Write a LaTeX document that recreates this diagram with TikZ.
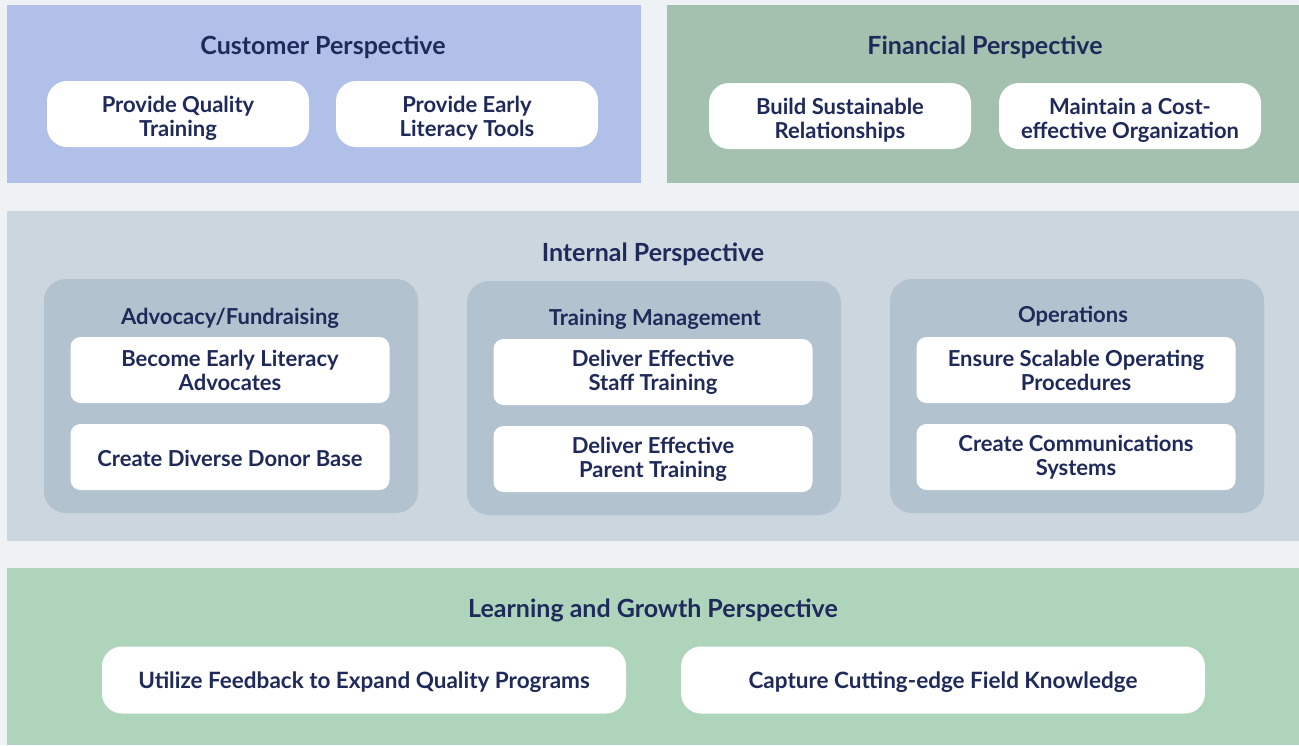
\documentclass[tikz,border=0pt]{standalone}
\usepackage{fontspec}
\setmainfont{Lato}
\definecolor{pagebg}{HTML}{EEF2F5}
\definecolor{custbg}{HTML}{B1C0E8}
\definecolor{finbg}{HTML}{A3C1AE}
\definecolor{intbg}{HTML}{CBD6DF}
\definecolor{groupbg}{HTML}{B2C2CF}
\definecolor{learnbg}{HTML}{AED5BC}
\definecolor{navy}{HTML}{1F2A5A}
\tikzset{
  title/.style={text=navy, font=\fontsize{25}{29}\selectfont\bfseries},
  subtitle/.style={text=navy, font=\fontsize{22}{26}\selectfont\bfseries},
  card/.style={fill=white, rounded corners=20pt, minimum width=262pt, minimum height=66pt,
    align=center, text=navy, font=\fontsize{22}{24}\selectfont\bfseries},
  goal/.style={card, execute at begin node={\rule{0pt}{49pt}}},
  wide goal/.style={card, minimum width=524pt, minimum height=67pt,
    font=\fontsize{22.5}{24}\selectfont\bfseries,
    execute at begin node={\rule{0pt}{22pt}}},
  group/.style={fill=groupbg, rounded corners=22pt, minimum width=374pt, minimum height=234pt},
  task/.style={fill=white, rounded corners=10pt, minimum width=319pt, minimum height=66pt,
    align=center, text=navy, font=\fontsize{22}{24}\selectfont\bfseries,
    execute at begin node={\rule{0pt}{19pt}}},
}
\begin{document}
\begin{tikzpicture}[x=1pt,y=-1pt]

  \fill[pagebg] (0,0) rectangle (1299,745);

  % customer
  \fill[custbg] (7,5) rectangle (641,183);
  \node[title] (custtitle) at (323,47) {Customer Perspective};
  \node[goal] (quality) at (178,114) {Provide Quality\\Training};
  \node[goal] (tools) at (467,114) {Provide Early\\Literacy Tools};

  % financial
  \fill[finbg] (667,5) rectangle (1299,183);
  \node[title] (fintitle) at (985,47) {Financial Perspective};
  \node[goal] (relations) at (840,116) {Build Sustainable\\Relationships};
  \node[goal] (costeff) at (1130,116) {Maintain a Cost-\\effective Organization};

  % internal
  \fill[intbg] (7,211) rectangle (1299,541);
  \node[title] (inttitle) at (653,254) {Internal Perspective};

  \node[group] (advocacy) at (231,396) {};
  \node[group] (training) at (654,398) {};
  \node[group] (operations) at (1077,396) {};

  \node[subtitle] (advtitle) at (230,318) {Advocacy/Fundraising};
  \node[subtitle] (trtitle) at (655,319) {Training Management};
  \node[subtitle] (optitle) at (1073,316) {Operations};

  \node[task] (advocates) at (230,370) {Become Early Literacy\\Advocates};
  \node[task] (donors) at (230,457) {Create Diverse Donor Base};
  \node[task] (staff) at (653,372) {Deliver Effective\\Staff Training};
  \node[task] (parents) at (653,459) {Deliver Effective\\Parent Training};
  \node[task] (procedures) at (1076,370) {Ensure Scalable Operating\\Procedures};
  \node[task] (comms) at (1076,457) {Create Communications\\Systems};

  % learning and growth
  \fill[learnbg] (7,568) rectangle (1299,745);
  \node[title] (learntitle) at (653,610) {Learning and Growth Perspective};
  \node[wide goal] (feedback) at (364,680) {Utilize Feedback to Expand Quality Programs};
  \node[wide goal] (knowledge) at (943,680) {Capture Cutting-edge Field Knowledge};

\end{tikzpicture}
\end{document}
